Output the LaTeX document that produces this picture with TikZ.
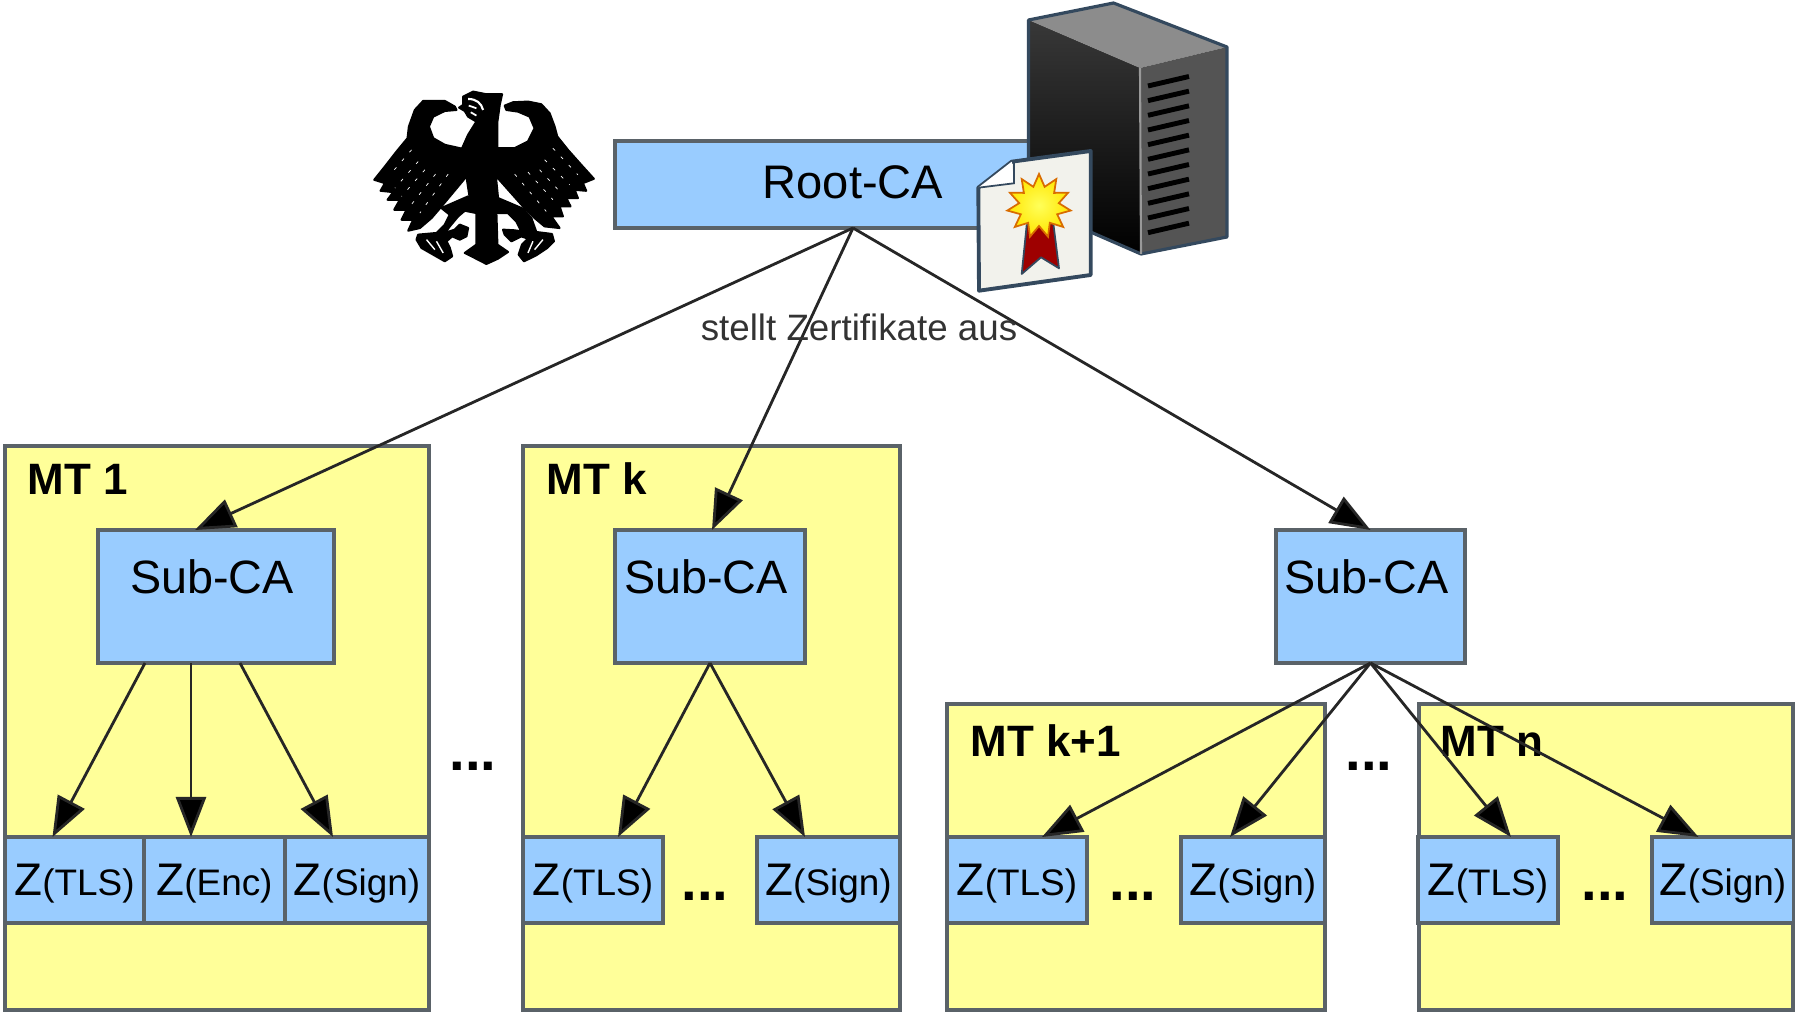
\documentclass[tikz,border=0pt]{standalone}
\usepackage{fontspec}
\setmainfont{Liberation Sans}
\usepackage{xcolor}
\usetikzlibrary{arrows.meta,shapes.geometric}
\definecolor{caBlue}{HTML}{99CCFF}
\definecolor{mtYellow}{HTML}{FFFF99}
\definecolor{edgeGrey}{HTML}{5A6268}
\definecolor{slateBlue}{HTML}{34495E}
\definecolor{paperWhite}{HTML}{F2F2EC}
\newcommand{\zlabel}[1]{\fontsize{13}{15}\selectfont Z\fontsize{10.5}{12}\selectfont(#1)}
\tikzset{
  mtbox/.style={draw=edgeGrey,fill=mtYellow,line width=.9pt,inner sep=0,outer sep=0,minimum height=#1},
  cabox/.style={draw=edgeGrey,fill=caBlue,line width=.9pt,inner sep=0,outer sep=0},
  rootbox/.style={cabox,minimum width=4.76cm,text height=.58cm,text depth=.29cm,font=\fontsize{13.4}{15}\selectfont},
  subbox/.style={cabox,text height=.64cm,text depth=.69cm,font=\fontsize{13.3}{15}\selectfont},
  zbox/.style={cabox,text height=.59cm,text depth=.27cm},
  mtlabel/.style={anchor=west,inner sep=0,font=\fontsize{12.5}{15}\selectfont\bfseries},
  gap/.style={inner sep=0,font=\fontsize{16}{18}\selectfont\bfseries},
  issue/.style={-{Triangle[length=.40cm,width=.30cm,fill=black]},line width=.8pt,draw=black!85}
}
\begin{document}
\begin{tikzpicture}
\useasboundingbox (0,0) rectangle (17.95,10.13);
% tenants
\node (mt1) [mtbox=5.64cm,minimum width=4.24cm] at (2.17,2.85) {};
\node (mtk) [mtbox=5.64cm,minimum width=3.77cm] at (7.115,2.85) {};
\node (mtk1) [mtbox=3.06cm,minimum width=3.78cm] at (11.36,1.56) {};
\node (mtn) [mtbox=3.06cm,minimum width=3.74cm] at (16.06,1.56) {};
\node (lab1) [mtlabel] at (0.27,5.34) {MT 1};
\node (labk) [mtlabel] at (5.46,5.34) {MT k};
\node (labk1) [mtlabel] at (9.70,2.72) {MT k+1};
\node (labn) [mtlabel] at (14.40,2.72) {MT n};
% CAs
\node (root) [rootbox] at (8.53,8.285) {Root-CA};
\node (sub1) [subbox,minimum width=2.36cm] at (2.16,4.165) {Sub-CA\kern.08cm};
\node (subk) [subbox,minimum width=1.90cm] at (7.10,4.165) {Sub-CA\kern.08cm};
\node (subm) [subbox,minimum width=1.89cm] at (13.705,4.165) {Sub-CA\kern.08cm};
% certificates
\node (z1t) [zbox,minimum width=1.39cm] at (0.745,1.33) {\zlabel{TLS}};
\node (z1e) [zbox,minimum width=1.41cm] at (2.145,1.33) {\zlabel{Enc}};
\node (z1s) [zbox,minimum width=1.44cm] at (3.57,1.33) {\zlabel{Sign}};
\node (zkt) [zbox,minimum width=1.40cm] at (5.93,1.33) {\zlabel{TLS}};
\node (zks) [zbox,minimum width=1.43cm] at (8.285,1.33) {\zlabel{Sign}};
\node (zlt) [zbox,minimum width=1.40cm] at (10.17,1.33) {\zlabel{TLS}};
\node (zls) [zbox,minimum width=1.44cm] at (12.53,1.33) {\zlabel{Sign}};
\node (znt) [zbox,minimum width=1.40cm] at (14.88,1.33) {\zlabel{TLS}};
\node (zns) [zbox,minimum width=1.42cm] at (17.23,1.33) {\zlabel{Sign}};
% dots
\node (gap1) [gap] at (4.73,2.47) {...};
\node (gap2) [gap] at (7.05,1.17) {...};
\node (gap3) [gap] at (11.33,1.17) {...};
\node (gap4) [gap] at (13.69,2.47) {...};
\node (gap5) [gap] at (16.05,1.17) {...};
% arrows
\draw [issue] (root.south) -- ([xshift=-.21cm]sub1.north);
\draw [issue] (root.south) -- ([xshift=.02cm]subk.north);
\draw [issue] (root.south) -- (subm.north);
\draw [issue] ([xshift=-.71cm]sub1.south) -- ([xshift=-.22cm]z1t.north);
\draw [issue] ([xshift=-.25cm]sub1.south) -- ([xshift=-.235cm]z1e.north);
\draw [issue] ([xshift=.24cm]sub1.south) -- ([xshift=-.24cm]z1s.north);
\draw [issue] (subk.south) -- ([xshift=.25cm]zkt.north);
\draw [issue] (subk.south) -- ([xshift=-.235cm]zks.north);
\draw [issue] (subm.south) -- ([xshift=.25cm]zlt.north);
\draw [issue] (subm.south) -- ([xshift=-.23cm]zls.north);
\draw [issue] (subm.south) -- ([xshift=.23cm]znt.north);
\draw [issue] (subm.south) -- ([xshift=-.245cm]zns.north);
\node (issued) [inner sep=0,text=black!80,font=\fontsize{10.45}{12}\selectfont] at (8.59,6.86) {stellt Zertifikate aus};
% server
\fill [top color=black!78,bottom color=black] (10.285,9.93) -- (11.40,9.45) -- (11.41,7.59) -- (10.285,8.08) -- cycle;
\fill [black!45] (10.285,9.93) -- (11.135,10.10) -- (12.27,9.66) -- (11.40,9.45) -- cycle;
\fill [black!67] (11.40,9.45) -- (12.27,9.66) -- (12.27,7.76) -- (11.41,7.59) -- cycle;
\draw [slateBlue,line width=.9pt,line join=round] (10.285,8.08) -- (10.285,9.93) -- (11.135,10.10) -- (12.27,9.66) -- (12.27,7.76) -- (11.41,7.59) -- cycle;
\draw [black!40,line width=.6pt] (11.40,9.45) -- (11.41,7.59);
\foreach \n in {0,...,10}
  \draw [black,line width=1.4pt] (11.48,9.27-\n*.1467) -- (11.89,9.365-\n*.1467);
% document with seal
\draw [slateBlue,fill=paperWhite,line width=1.1pt,line join=round] (9.783,8.253) -- (10.117,8.513) -- (10.907,8.62) -- (10.907,7.38) -- (9.79,7.223) -- cycle;
\fill [white] (9.783,8.253) -- (10.117,8.513) -- (10.14,8.297) -- cycle;
\draw [slateBlue,line width=.5pt] (9.783,8.253) -- (10.14,8.297) -- (10.14,8.513);
\draw [slateBlue,fill=red!62!black,line width=.5pt,line join=round] (10.267,7.88) -- (10.533,7.897) -- (10.59,7.447) -- (10.41,7.557) -- (10.217,7.39) -- cycle;
\node (seal) [star,star points=11,star point ratio=1.6,minimum size=.64cm,inner sep=0,draw=orange!85!black,line width=.5pt,inner color=yellow!65!white,outer color=yellow!80!orange] at (10.39,8.07) {};
% eagle
\begin{scope}[shift={(3.65,9.28)},x=.003333cm,y=-.003333cm,line width=.6pt,line join=round]
\filldraw (270,65) -- (240,48) -- (175,48) -- (150,75) -- (132,125) -- (128,160) -- (95,200) -- (60,245) -- (28,285) -- (60,295) -- (47,318) -- (85,322) -- (68,345) -- (105,345) -- (88,375) -- (125,375) -- (110,405) -- (145,405) -- (130,438) -- (165,430) -- (200,400) -- (230,365) -- (305,275) -- (310,195) -- (285,190) -- (240,180) -- (205,160) -- (192,125) -- (205,95) -- (240,78) -- (275,75) -- cycle;
\filldraw (420,62) -- (445,52) -- (490,50) -- (530,58) -- (555,85) -- (570,125) -- (578,155) -- (610,195) -- (650,240) -- (688,282) -- (655,295) -- (665,318) -- (630,315) -- (640,340) -- (605,340) -- (618,365) -- (585,365) -- (595,395) -- (560,395) -- (585,430) -- (540,425) -- (510,400) -- (475,365) -- (395,275) -- (395,190) -- (450,190) -- (490,170) -- (510,130) -- (495,95) -- (460,80) -- (425,75) -- cycle;
\filldraw (283,68) -- (295,60) -- (295,35) -- (325,20) -- (365,28) -- (412,28) -- (405,60) -- (398,110) -- (398,190) -- (395,290) -- (400,340) -- (395,385) -- (398,480) -- (430,502) -- (400,522) -- (365,538) -- (330,520) -- (300,505) -- (335,480) -- (335,385) -- (315,340) -- (305,275) -- (290,195) -- (310,150) -- (335,110) -- (310,95) -- (300,78) -- cycle;
\filldraw (230,370) -- (310,335) -- (335,385) -- (300,378) -- (280,395) -- (255,425) -- (240,445) -- (270,435) -- (285,420) -- (310,430) -- (305,455) -- (285,465) -- (262,455) -- (245,470) -- (255,490) -- (262,515) -- (240,530) -- (205,510) -- (170,490) -- (155,465) -- (160,450) -- (215,445) -- (240,420) -- (255,390) -- cycle;
\filldraw (400,340) -- (475,372) -- (500,400) -- (515,442) -- (562,448) -- (568,470) -- (548,490) -- (515,512) -- (478,530) -- (462,510) -- (472,480) -- (490,462) -- (470,455) -- (440,470) -- (420,450) -- (415,435) -- (450,437) -- (470,440) -- (455,410) -- (430,385) -- (395,385) -- cycle;
\foreach \ax/\ay/\bx/\by in {140/195/75/270,160/230/90/310,180/255/110/335,212/268/135/365,250/268/165/385,565/190/640/270,540/225/615/300,525/255/590/325,490/262/565/345,450/268/545/380}
  \draw [white,line width=.2pt,dash pattern=on .9pt off 2.4pt] (\ax,\ay) -- (\bx,\by);
\draw [white,line width=.6pt] (310,42) .. controls (335,42) and (350,55) .. (355,75);
\draw [white,line width=.5pt] (312,62) -- (335,70) (318,82) -- (335,92);
\draw [white,line width=.4pt] (185,465) -- (210,495) (215,470) -- (235,505) (505,470) -- (490,505) (535,465) -- (510,495);
\end{scope}
\end{tikzpicture}
\end{document}
